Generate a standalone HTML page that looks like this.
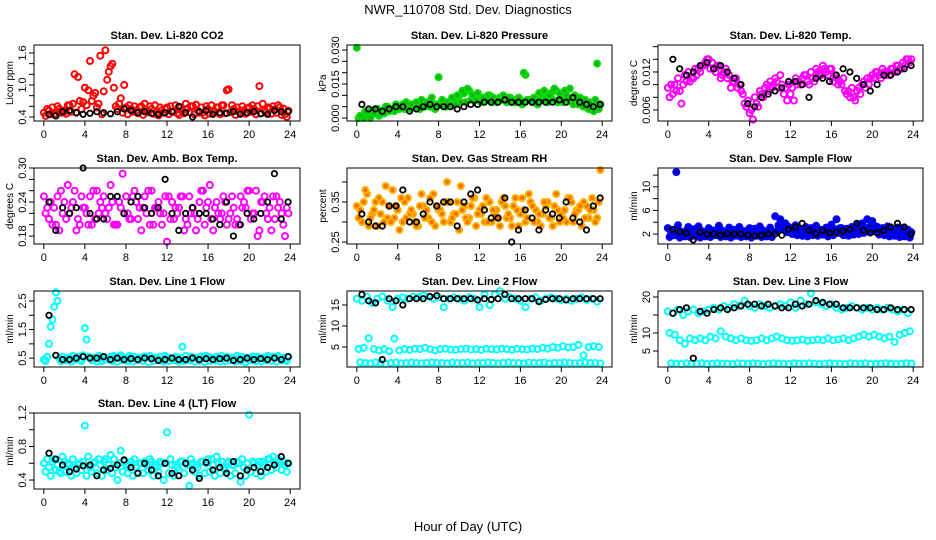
<!DOCTYPE html>
<html><head><meta charset="utf-8"><style>
body{margin:0;background:#fff}
svg{display:block;font-family:"Liberation Sans",Arial,sans-serif}
</style></head><body>
<svg id="chart" width="936" height="540" viewBox="0 0 936 540">
<text x="468" y="14" text-anchor="middle" font-size="13">NWR_110708 Std. Dev. Diagnostics</text>
<text x="468" y="531" text-anchor="middle" font-size="13">Hour of Day (UTC)</text>
</svg>
<script>
// ---- data (hour of day sampled at regular intervals) ----
const xTicks=[0,4,8,12,16,20,24];
const co2A=[0.48,0.52,0.45,0.55,0.50,0.62,1.20,0.70,0.95,1.45,0.85,1.55,1.65,1.35,0.60,0.75,0.58,0.55,0.52,0.60,0.50,0.55,0.48,0.53,0.58,0.50,0.47,0.52,0.56,0.60,0.52,0.48,0.55,0.50,0.58,0.62,0.92,0.55,0.50,0.53,0.58,0.55,0.98,0.52,0.56,0.54,0.58,0.45];
const co2B=[0.42,0.45,0.44,0.48,0.46,0.50,0.48,0.55,0.62,0.70,0.58,0.45,1.10,1.40,0.55,0.48,0.45,0.50,0.47,0.44,0.49,0.46,0.43,0.48,0.45,0.50,0.44,0.47,0.49,0.45,0.48,0.43,0.46,0.50,0.45,0.47,0.49,0.44,0.48,0.46,0.50,0.45,0.47,0.49,0.46,0.48,0.44,0.40];
const co2C=[0.55,0.58,0.60,0.52,0.62,0.65,1.15,0.68,0.90,0.80,0.65,0.88,1.25,0.95,0.65,1.00,0.62,0.60,0.58,0.65,0.60,0.62,0.58,0.55,0.60,0.62,0.58,0.65,0.60,0.63,0.58,0.60,0.62,0.58,0.62,0.90,0.62,0.58,0.60,0.56,0.62,0.60,0.65,0.58,0.60,0.62,0.56,0.52];
const co2K=[0.45,0.42,0.50,0.52,0.48,0.45,0.47,0.50,0.48,0.46,0.50,0.55,0.52,0.48,0.50,0.47,0.45,0.48,0.50,0.60,0.48,0.40,0.50,0.52,0.45,0.48,0.47,0.50,0.45,0.48,0.50,0.46,0.45,0.52,0.50,0.50];
const presA=[0.031,0.001,0.003,0.002,0.004,0.003,0.005,0.004,0.005,0.006,0.005,0.006,0.006,0.005,0.007,0.006,0.018,0.006,0.007,0.008,0.010,0.011,0.012,0.009,0.009,0.008,0.010,0.008,0.009,0.008,0.009,0.007,0.008,0.019,0.008,0.009,0.010,0.009,0.011,0.012,0.009,0.010,0.008,0.007,0.006,0.005,0.006,0.024];
const presB=[0.000,0.000,0.001,0.002,0.001,0.002,0.003,0.003,0.004,0.004,0.004,0.005,0.004,0.005,0.005,0.004,0.006,0.005,0.006,0.006,0.007,0.007,0.008,0.008,0.007,0.008,0.007,0.007,0.008,0.007,0.007,0.007,0.006,0.008,0.007,0.006,0.008,0.007,0.008,0.007,0.007,0.008,0.006,0.006,0.005,0.004,0.003,0.004];
const presC=[0.001,0.003,0.000,0.004,0.002,0.005,0.004,0.006,0.005,0.007,0.006,0.007,0.008,0.007,0.009,0.006,0.008,0.007,0.009,0.010,0.012,0.013,0.010,0.011,0.009,0.010,0.009,0.008,0.010,0.009,0.008,0.009,0.020,0.008,0.009,0.011,0.012,0.010,0.013,0.011,0.012,0.013,0.010,0.009,0.008,0.007,0.008,0.006];
const presK=[0.006,0.004,0.004,0.003,0.004,0.005,0.005,0.003,0.004,0.005,0.006,0.005,0.005,0.005,0.004,0.005,0.006,0.006,0.007,0.007,0.007,0.008,0.007,0.007,0.007,0.007,0.007,0.007,0.007,0.008,0.007,0.009,0.007,0.006,0.005,0.006];
const tempA=[0.0095,0.0085,0.0110,0.0100,0.0120,0.0110,0.0125,0.0130,0.0140,0.0125,0.0130,0.0120,0.0115,0.0105,0.0100,0.0070,0.0055,0.0080,0.0090,0.0095,0.0105,0.0110,0.0115,0.0095,0.0085,0.0110,0.0100,0.0115,0.0120,0.0125,0.0115,0.0120,0.0125,0.0110,0.0100,0.0085,0.0095,0.0090,0.0100,0.0110,0.0115,0.0120,0.0125,0.0120,0.0125,0.0130,0.0135,0.0140];
const tempB=[0.0080,0.0100,0.0090,0.0115,0.0105,0.0125,0.0120,0.0135,0.0125,0.0120,0.0110,0.0125,0.0095,0.0110,0.0090,0.0065,0.0060,0.0070,0.0085,0.0100,0.0095,0.0105,0.0100,0.0075,0.0095,0.0100,0.0110,0.0105,0.0110,0.0120,0.0130,0.0115,0.0105,0.0100,0.0110,0.0090,0.0080,0.0095,0.0105,0.0100,0.0110,0.0115,0.0120,0.0115,0.0120,0.0125,0.0130,0.0135];
const tempC=[0.0100,0.0090,0.0070,0.0105,0.0110,0.0115,0.0130,0.0140,0.0135,0.0130,0.0115,0.0110,0.0105,0.0095,0.0085,0.0075,0.0045,0.0065,0.0080,0.0090,0.0100,0.0095,0.0085,0.0100,0.0075,0.0105,0.0115,0.0100,0.0105,0.0115,0.0125,0.0125,0.0115,0.0105,0.0090,0.0080,0.0075,0.0085,0.0095,0.0110,0.0120,0.0110,0.0115,0.0125,0.0130,0.0125,0.0140,0.0140];
const tempK=[0.0140,0.0125,0.0115,0.0120,0.0130,0.0135,0.0125,0.0130,0.0120,0.0110,0.0100,0.0070,0.0065,0.0080,0.0085,0.0090,0.0095,0.0105,0.0105,0.0100,0.0080,0.0110,0.0110,0.0105,0.0115,0.0125,0.0120,0.0110,0.0100,0.0090,0.0100,0.0115,0.0115,0.0120,0.0125,0.0130];
const ambA=[0.25,0.21,0.23,0.19,0.24,0.22,0.26,0.20,0.23,0.25,0.21,0.24,0.22,0.27,0.20,0.23,0.25,0.21,0.24,0.19,0.22,0.26,0.23,0.20,0.17,0.24,0.22,0.25,0.20,0.23,0.21,0.26,0.24,0.19,0.22,0.25,0.21,0.23,0.20,0.24,0.26,0.22,0.19,0.25,0.23,0.21,0.24,0.18];
const ambB=[0.22,0.24,0.20,0.26,0.21,0.23,0.19,0.25,0.22,0.20,0.26,0.23,0.21,0.24,0.20,0.29,0.22,0.25,0.21,0.23,0.26,0.20,0.24,0.22,0.25,0.21,0.23,0.19,0.25,0.22,0.24,0.20,0.27,0.23,0.21,0.24,0.22,0.20,0.25,0.23,0.21,0.26,0.24,0.22,0.19,0.25,0.22,0.23];
const ambC=[0.23,0.20,0.25,0.22,0.27,0.24,0.21,0.23,0.20,0.26,0.22,0.25,0.23,0.20,0.24,0.22,0.21,0.26,0.23,0.25,0.20,0.23,0.22,0.25,0.21,0.23,0.25,0.21,0.22,0.19,0.26,0.23,0.21,0.24,0.22,0.20,0.25,0.21,0.23,0.26,0.22,0.18,0.24,0.21,0.25,0.23,0.20,0.22];
const ambK=[0.24,0.19,0.23,0.22,0.23,0.30,0.22,0.21,0.21,0.25,0.25,0.22,0.24,0.25,0.23,0.22,0.23,0.28,0.22,0.19,0.22,0.23,0.22,0.22,0.21,0.20,0.24,0.18,0.20,0.22,0.21,0.22,0.24,0.29,0.21,0.24];
const rhA=[0.34,0.30,0.37,0.32,0.29,0.35,0.31,0.38,0.33,0.30,0.36,0.32,0.29,0.34,0.31,0.37,0.33,0.30,0.35,0.32,0.28,0.34,0.31,0.36,0.33,0.30,0.35,0.32,0.29,0.34,0.31,0.36,0.32,0.30,0.35,0.33,0.29,0.34,0.31,0.37,0.32,0.30,0.35,0.33,0.29,0.34,0.36,0.31];
const rhB=[0.31,0.35,0.29,0.33,0.36,0.30,0.34,0.31,0.28,0.35,0.32,0.30,0.34,0.31,0.36,0.29,0.33,0.35,0.30,0.32,0.39,0.31,0.34,0.29,0.32,0.36,0.30,0.33,0.35,0.31,0.29,0.33,0.36,0.31,0.34,0.30,0.32,0.35,0.29,0.33,0.31,0.36,0.30,0.33,0.35,0.31,0.33,0.35];
const rhC=[0.33,0.38,0.31,0.35,0.32,0.39,0.30,0.34,0.36,0.31,0.33,0.29,0.37,0.33,0.30,0.34,0.32,0.40,0.31,0.35,0.33,0.30,0.36,0.32,0.34,0.30,0.33,0.31,0.36,0.32,0.34,0.29,0.33,0.37,0.30,0.32,0.35,0.31,0.34,0.30,0.33,0.36,0.32,0.34,0.31,0.33,0.30,0.43];
const rhK=[0.32,0.30,0.29,0.29,0.34,0.34,0.38,0.30,0.30,0.32,0.35,0.34,0.35,0.35,0.29,0.35,0.37,0.38,0.33,0.31,0.31,0.36,0.25,0.28,0.33,0.31,0.28,0.33,0.32,0.31,0.35,0.31,0.30,0.28,0.34,0.36];
const sfA=[3.0,2.5,3.5,2.0,3.2,2.8,3.3,2.2,3.0,2.6,3.4,2.4,3.1,2.7,3.2,2.5,3.0,2.9,3.3,2.4,3.1,5.0,4.5,3.8,3.0,3.5,2.8,3.2,3.0,3.4,2.7,3.1,3.6,4.5,3.0,2.9,3.2,3.5,3.8,4.5,4.2,3.2,3.0,3.3,2.8,3.1,3.0,2.7];
const sfB=[1.5,1.8,1.4,1.6,1.5,1.7,1.4,1.6,1.5,1.8,1.5,1.6,1.4,1.7,1.5,1.6,1.4,1.7,1.5,1.6,1.5,2.5,2.8,2.3,2.0,1.8,1.7,1.6,1.8,1.7,1.9,1.6,1.8,2.2,1.8,1.7,1.9,2.0,2.2,2.4,2.5,1.9,1.8,1.6,1.7,1.5,1.6,1.4];
const sfC=[2.2,12.5,2.4,2.6,2.0,2.3,2.5,2.1,2.4,2.2,2.6,2.0,2.3,2.5,2.2,2.4,2.1,2.3,2.6,2.0,2.4,3.5,3.8,3.2,2.6,2.4,2.5,2.3,2.6,2.4,2.7,2.3,2.8,3.0,2.6,2.4,2.7,2.9,3.0,3.4,3.3,2.6,2.4,2.5,2.3,2.4,2.2,2.3];
const sfK=[2.8,2.4,2.2,1.0,2.3,2.0,2.0,1.8,2.0,2.0,2.0,1.8,1.7,1.8,2.0,2.0,1.8,2.8,3.2,3.8,2.6,2.0,2.6,2.2,2.3,2.5,2.8,3.8,2.6,2.2,2.2,2.6,3.2,3.8,3.2,2.0];
const l1A=[0.45,1.0,2.3,0.50,0.45,0.50,0.48,0.45,1.55,0.50,0.48,0.52,0.45,0.55,0.50,0.60,0.48,0.52,0.45,0.50,0.55,0.48,0.50,0.45,0.52,0.48,0.50,0.90,0.45,0.52,0.48,0.50,0.55,0.45,0.50,0.48,0.52,0.45,0.50,0.48,0.45,0.52,0.50,0.48,0.55,0.50,0.52,0.45];
const l1B=[0.40,1.6,2.8,0.40,0.42,0.38,0.45,0.40,1.15,0.42,0.38,0.40,0.45,0.40,0.38,0.42,0.40,0.38,0.42,0.40,0.36,0.40,0.42,0.38,0.40,0.42,0.38,0.40,0.42,0.38,0.40,0.36,0.40,0.42,0.38,0.40,0.42,0.38,0.40,0.35,0.42,0.40,0.38,0.42,0.40,0.38,0.42,0.40];
const l1C=[0.55,1.85,2.5,0.55,0.52,0.58,0.55,0.60,0.55,0.52,0.58,0.55,0.50,0.58,0.55,0.52,0.58,0.55,0.52,0.56,0.58,0.52,0.55,0.58,0.50,0.55,0.52,0.58,0.55,0.52,0.56,0.58,0.52,0.55,0.58,0.55,0.52,0.58,0.55,0.52,0.56,0.55,0.52,0.58,0.55,0.58,0.52,0.55];
const l1K=[2.0,0.6,0.45,0.45,0.50,0.55,0.50,0.50,0.55,0.45,0.50,0.45,0.48,0.45,0.50,0.48,0.42,0.45,0.50,0.45,0.45,0.50,0.45,0.48,0.45,0.48,0.50,0.42,0.45,0.50,0.45,0.48,0.45,0.50,0.45,0.55];
const l2A=[16.5,16.0,17.0,15.5,16.5,17.0,16.0,14.5,16.5,16.8,16.5,17.0,16.8,17.2,17.0,16.5,16.8,14.5,16.5,16.8,16.5,16.0,16.8,16.5,14.5,17.5,15.0,17.5,18.3,16.5,16.8,16.5,16.0,14.5,16.5,16.8,16.0,16.5,16.8,16.5,16.2,16.5,16.0,16.5,16.8,16.2,16.5,15.8];
const l2B=[4.5,4.8,7.1,4.5,4.2,4.5,4.0,7.0,4.2,4.5,4.3,4.6,4.5,4.8,4.5,4.2,4.5,4.6,4.4,4.3,4.5,4.6,4.4,4.5,4.3,4.6,4.5,4.4,4.6,4.5,4.3,4.6,4.5,4.4,4.6,4.5,4.8,4.6,5.0,4.8,5.2,4.9,5.0,5.5,3.0,5.0,5.2,5.0];
const l2C=[1.3,1.2,1.1,1.3,1.2,1.0,1.2,1.3,1.1,1.2,1.3,1.2,1.1,1.2,1.3,1.2,1.2,1.1,1.3,1.2,1.2,1.3,1.1,1.2,1.2,1.3,1.2,1.1,1.2,1.3,1.2,1.2,1.1,1.3,1.2,1.2,1.3,1.1,1.2,1.2,1.3,1.2,1.1,1.2,1.3,1.2,1.2,1.1];
const l2K=[17.5,16.0,15.5,2.0,16.5,16.0,15.0,16.5,16.5,16.5,17.0,17.2,16.5,16.5,16.5,16.5,16.5,16.2,16.5,16.3,16.5,17.5,16.5,16.5,16.5,16.5,15.8,16.3,16.5,16.5,16.2,16.5,16.5,16.5,16.5,16.5];
const l3A=[16.0,15.5,16.5,15.0,16.0,16.5,15.5,16.0,16.5,17.0,16.5,17.5,17.0,18.0,17.5,19.0,17.5,17.0,18.0,17.5,17.0,17.5,18.0,17.5,18.5,17.0,19.0,18.0,21.0,18.5,18.0,17.5,18.0,17.0,16.5,17.0,17.5,17.0,16.5,17.0,16.5,17.0,16.5,17.0,16.5,16.0,16.5,15.5];
const l3B=[10.0,9.5,8.0,7.0,8.5,8.0,8.5,8.0,9.0,8.5,10.5,9.0,8.5,8.0,8.5,8.0,7.8,8.0,8.5,8.0,8.5,9.0,8.5,8.0,7.8,8.0,8.2,7.8,8.0,8.2,8.0,8.5,8.0,8.2,8.5,8.0,8.5,9.0,9.5,9.0,9.5,9.0,8.5,9.0,7.5,9.5,10.0,10.5];
const l3C=[1.6,1.5,1.4,1.6,1.5,1.5,1.6,1.4,1.5,1.6,1.5,1.5,1.4,1.6,1.5,1.5,1.6,1.5,1.4,1.5,1.6,1.5,1.5,1.4,1.6,1.5,1.5,1.6,1.5,1.4,1.5,1.6,1.5,1.5,1.4,1.6,1.5,1.5,1.6,1.4,1.5,1.5,1.6,1.5,1.4,1.5,1.6,1.5];
const l3K=[15.5,16.5,17.0,3.0,16.0,15.5,16.5,17.0,16.5,17.0,17.5,18.0,18.0,17.5,18.0,17.5,17.0,17.0,18.0,17.5,18.0,19.0,18.5,18.0,18.0,17.0,17.0,17.0,17.0,17.0,16.5,16.5,17.0,16.5,16.5,16.5];
const l4A=[0.60,0.55,0.65,0.50,0.62,0.58,0.55,0.60,1.05,0.55,0.62,0.58,0.65,0.70,0.55,0.75,0.58,0.62,0.55,0.60,0.58,0.62,0.55,0.60,0.97,0.58,0.55,0.62,0.58,0.60,0.55,0.62,0.65,0.58,0.60,0.55,0.62,0.58,0.60,0.55,1.18,0.60,0.62,0.58,0.65,0.60,0.62,0.58];
const l4B=[0.50,0.45,0.52,0.48,0.50,0.45,0.48,0.52,0.45,0.50,0.48,0.45,0.52,0.48,0.40,0.50,0.48,0.45,0.50,0.48,0.52,0.45,0.50,0.40,0.48,0.45,0.52,0.48,0.33,0.50,0.45,0.48,0.50,0.45,0.48,0.52,0.45,0.48,0.38,0.45,0.50,0.48,0.45,0.50,0.52,0.55,0.52,0.50];
const l4C=[0.65,0.62,0.58,0.68,0.60,0.65,0.58,0.62,0.68,0.60,0.65,0.62,0.58,0.65,0.60,0.62,0.58,0.65,0.60,0.62,0.65,0.58,0.62,0.60,0.65,0.58,0.62,0.60,0.65,0.58,0.62,0.60,0.65,0.68,0.62,0.60,0.58,0.62,0.65,0.60,0.62,0.58,0.62,0.65,0.68,0.65,0.62,0.60];
const l4K=[0.72,0.65,0.58,0.50,0.53,0.57,0.58,0.45,0.52,0.54,0.58,0.64,0.55,0.48,0.60,0.52,0.45,0.60,0.48,0.45,0.60,0.52,0.42,0.61,0.52,0.55,0.48,0.62,0.45,0.52,0.55,0.50,0.55,0.58,0.68,0.60];

const svg=document.getElementById('chart');
const NS='http://www.w3.org/2000/svg';
function mk(tag,attrs,parent){const e=document.createElementNS(NS,tag);for(const k in attrs)e.setAttribute(k,attrs[k]);(parent||svg).appendChild(e);return e;}

const colsX=[[34,300],[347,612],[658,923]];
const rowsY=[[45,121],[168,244],[291,367],[413,489]];
const panels=[
 {slug:'co2',c:0,r:0,title:'Stan. Dev. Li-820 CO2',yl:'Licor ppm',dom:[0.325,1.75],ticks:[0.4,0.6,0.8,1.0,1.2,1.4,1.6],labs:['0.4','1.0','1.6'],col:'#ff0000',fill:'none',s:[co2A,co2B,co2C],k:co2K},
 {slug:'pressure',c:1,r:0,title:'Stan. Dev. Li-820 Pressure',yl:'kPa',dom:[-0.0013,0.0322],ticks:[0,0.005,0.01,0.015,0.02,0.025,0.03],labs:['0.000','0.015','0.030'],col:'#00dd00',fill:'#22aa22',s:[presA,presB,presC],k:presK},
 {slug:'temp',c:2,r:0,title:'Stan. Dev. Li-820 Temp.',yl:'degrees C',dom:[0.00426,0.01626],ticks:[0.006,0.008,0.010,0.012,0.014,0.016],labs:['0.006','0.012'],col:'#ff00ff',fill:'none',s:[tempA,tempB,tempC],k:tempK},
 {slug:'amb-box-temp',c:0,r:1,title:'Stan. Dev. Amb. Box Temp.',yl:'degrees C',dom:[0.166,0.30],ticks:[0.18,0.20,0.22,0.24,0.26,0.28,0.30],labs:['0.18','0.24','0.30'],col:'#ff00ff',fill:'none',s:[ambA,ambB,ambC],k:ambK},
 {slug:'gas-rh',c:1,r:1,title:'Stan. Dev. Gas Stream RH',yl:'percent',dom:[0.245,0.435],ticks:[0.25,0.30,0.35,0.40],labs:['0.25','0.35'],col:'#ffb000',fill:'#f07000',s:[rhA,rhB,rhC],k:rhK},
 {slug:'sample-flow',c:2,r:1,title:'Stan. Dev. Sample Flow',yl:'ml/min',dom:[0.31,13.2],ticks:[2,4,6,8,10,12],labs:['2','6','10'],col:'#0000ff',fill:'#0000cc',s:[sfA,sfB,sfC],k:sfK},
 {slug:'line1-flow',c:0,r:2,title:'Stan. Dev. Line 1 Flow',yl:'ml/min',dom:[0.19,2.85],ticks:[0.5,1.0,1.5,2.0,2.5],labs:['0.5','1.5','2.5'],col:'#00ffff',fill:'none',s:[l1A,l1B,l1C],k:l1K},
 {slug:'line2-flow',c:1,r:2,title:'Stan. Dev. Line 2 Flow',yl:'ml/min',dom:[0.24,18.33],ticks:[5,10,15],labs:['5','10','15'],col:'#00ffff',fill:'none',s:[l2A,l2B,l2C],k:l2K},
 {slug:'line3-flow',c:2,r:2,title:'Stan. Dev. Line 3 Flow',yl:'ml/min',dom:[0.56,21.67],ticks:[5,10,15,20],labs:['5','10','20'],col:'#00ffff',fill:'none',s:[l3A,l3B,l3C],k:l3K},
 {slug:'line4-flow',c:0,r:3,title:'Stan. Dev. Line 4 (LT) Flow',yl:'ml/min',dom:[0.293,1.2],ticks:[0.4,0.6,0.8,1.0,1.2],labs:['0.4','0.8','1.2'],col:'#00ffff',fill:'none',s:[l4A,l4B,l4C],k:l4K}
];
const offsets=[0,0.17,0.33];

panels.forEach(p=>{
  const [x0,x1]=colsX[p.c],[y0,y1]=rowsY[p.r];
  const g=mk('g',{});
  
  
  const xs=v=>x0+(v+0.96)/25.92*(x1-x0);
  const ys=v=>y1-(v-p.dom[0])/(p.dom[1]-p.dom[0])*(y1-y0);
  const t=mk('text',{x:(x0+x1)/2,y:y0-6,'text-anchor':'middle','font-size':11,'font-weight':'bold'},g);
  t.textContent=p.title;
  
  
  const yl=mk('text',{transform:`translate(${x0-21},${(y0+y1)/2}) rotate(-90)`,'text-anchor':'middle','font-size':10},g);
  yl.textContent=p.yl;
  
  
  const pts=mk('g',{},g);
  
  
  p.s.forEach((arr,si)=>{
    arr.forEach((v,i)=>{
      const hx=i*0.5+offsets[si], cx=xs(hx), cy=ys(v);
      if(cy<y0-3||cy>y1+3)return;
      const c=mk('circle',{cx:cx.toFixed(1),cy:cy.toFixed(1),r:3,fill:p.fill,stroke:p.col,'stroke-width':2},pts);
      
      
    });
  });
  const kstep=(23.8-0.5)/(p.k.length-1);
  p.k.forEach((v,i)=>{
    const cy=ys(v); if(cy<y0-3||cy>y1+3)return;
    const c=mk('circle',{cx:xs(0.5+i*kstep).toFixed(1),cy:cy.toFixed(1),r:2.7,fill:'none',stroke:'#000','stroke-width':1.8},pts);
    
    
  });
  const b=mk('rect',{x:x0,y:y0,width:x1-x0,height:y1-y0,fill:'none',stroke:'#000','stroke-width':1},g);
  
  
  const xa=mk('g',{},g);
  
  
  xTicks.forEach(v=>{
    mk('line',{x1:xs(v),x2:xs(v),y1:y1,y2:y1+5,stroke:'#000'},xa);
    const tl=mk('text',{x:xs(v),y:y1+17,'text-anchor':'middle','font-size':11},xa);
    tl.textContent=v;
    
    
  });
  const ya=mk('g',{},g);
  
  
  mk('line',{x1:x0,x2:x0,y1:ys(p.ticks[0]),y2:ys(p.ticks[p.ticks.length-1]),stroke:'#000'},ya);
  p.ticks.forEach(v=>{mk('line',{x1:x0-5,x2:x0,y1:ys(v),y2:ys(v),stroke:'#000'},ya);});
  p.labs.forEach(s=>{
    const tl=mk('text',{transform:`translate(${x0-8},${ys(parseFloat(s))}) rotate(-90)`,'text-anchor':'middle','font-size':11},ya);
    tl.textContent=s;
    
    
  });
});
</script>
</body></html>
